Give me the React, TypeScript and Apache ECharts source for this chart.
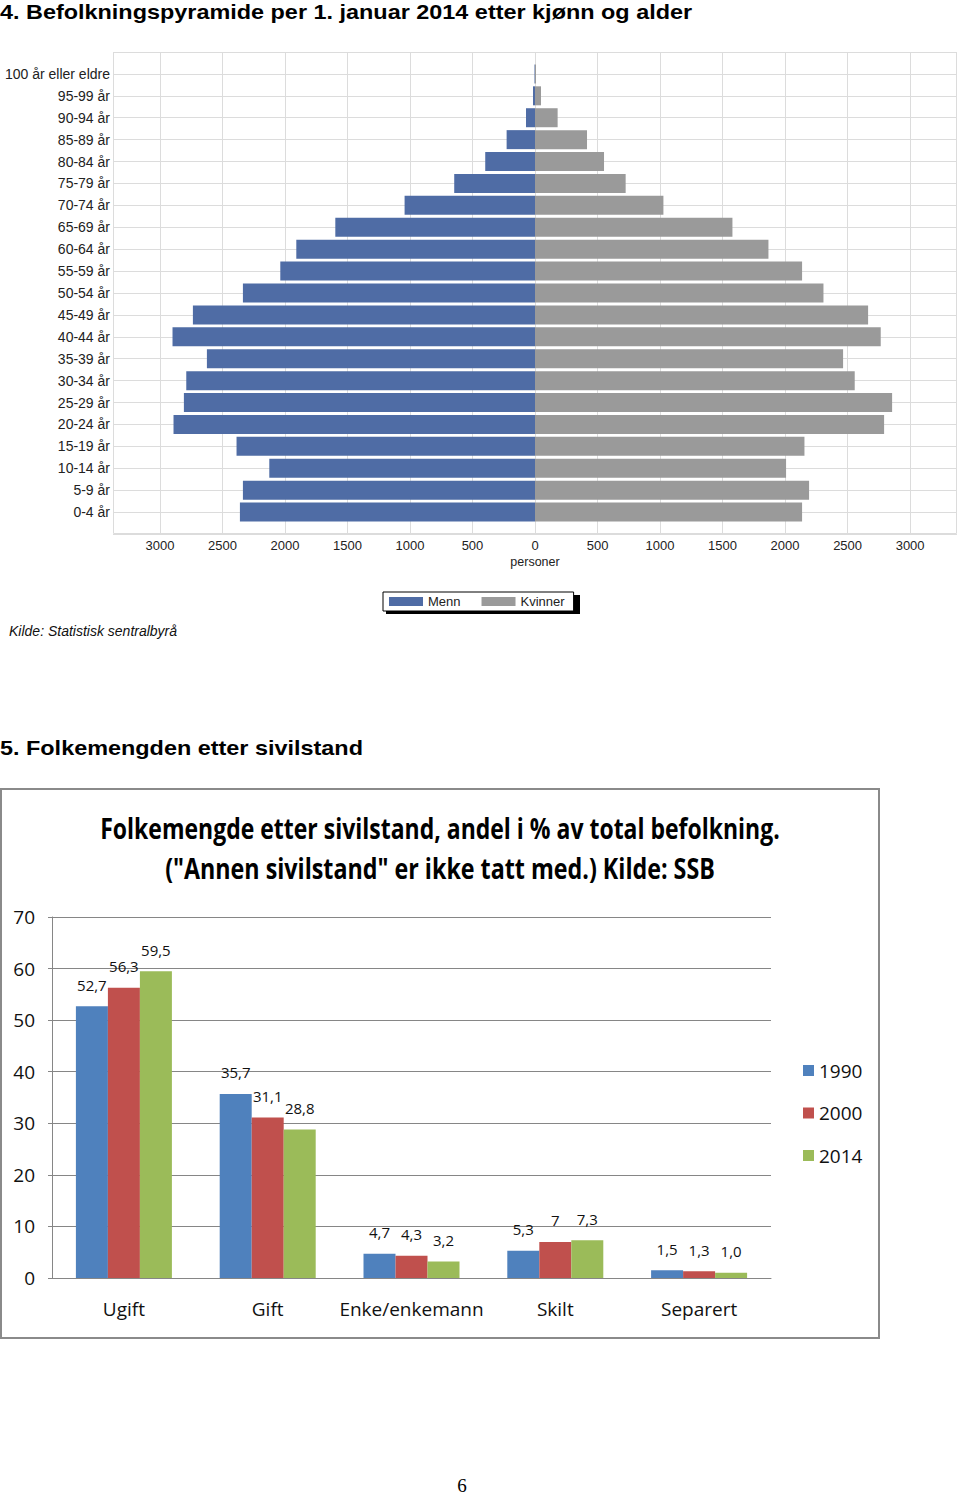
import React, { useEffect, useRef } from "react";
import * as echarts from "echarts";

// ---------- Chart 4: Befolkningspyramide ----------
const ageGroups = [
  "0-4 år", "5-9 år", "10-14 år", "15-19 år", "20-24 år", "25-29 år", "30-34 år",
  "35-39 år", "40-44 år", "45-49 år", "50-54 år", "55-59 år", "60-64 år", "65-69 år",
  "70-74 år", "75-79 år", "80-84 år", "85-89 år", "90-94 år", "95-99 år", "100 år eller eldre",
];
const menn = [2360, 2336, 2125, 2387, 2891, 2808, 2789, 2624, 2899, 2736, 2336, 2037, 1909, 1597, 1043, 646, 398, 227, 72, 16, 4];
const kvinner = [2136, 2192, 2008, 2155, 2792, 2856, 2557, 2464, 2765, 2664, 2307, 2136, 1867, 1579, 1027, 725, 552, 416, 181, 48, 8];
const pyramidMin = -3375;
const pyramidMax = 3375;
const pyramidStep = 125;
const pyramidLabelStep = 500;

// ---------- Chart 5: Folkemengden etter sivilstand ----------
const statuses = ["Ugift", "Gift", "Enke/enkemann", "Skilt", "Separert"];
const years = ["1990", "2000", "2014"];
const v1990 = [52.7, 35.7, 4.7, 5.3, 1.5];
const v2000 = [56.3, 31.1, 4.3, 7, 1.3];
const v2014 = [59.5, 28.8, 3.2, 7.3, 1.0];
const lab1990 = ["52,7", "35,7", "4,7", "5,3", "1,5"];
const lab2000 = ["56,3", "31,1", "4,3", "7", "1,3"];
const lab2014 = ["59,5", "28,8", "3,2", "7,3", "1,0"];

const SANS = "'Liberation Sans', Arial, sans-serif";
const HUMAN = "'Open Sans', 'Noto Sans', sans-serif";

function measure(text: string, font: string): number {
  const c = document.createElement("canvas").getContext("2d");
  if (!c) return 1;
  c.font = font;
  return c.measureText(text).width;
}

export default function App() {
  const ref = useRef<HTMLDivElement>(null);
  useEffect(() => {
    if (!ref.current) return;
    const chart = echarts.init(ref.current, undefined, { renderer: "svg" });

    const padCats = ["", ...ageGroups, ""];
    const mennData = [null, ...menn.map((v) => -v), null];
    const kvinnerData = [null, ...kvinner, null];

    const h1 = "4. Befolkningspyramide per 1. januar 2014 etter kjønn og alder";
    const h2 = "5. Folkemengden etter sivilstand";
    const headFont = "bold 21px " + SANS;
    const hs1 = 692 / measure(h1, headFont);
    const hs2 = 363 / measure(h2, headFont);

    const t1 = "Folkemengde etter sivilstand, andel i % av total befolkning.";
    const t2 = '("Annen sivilstand" er ikke tatt med.) Kilde: SSB';
    const titleFont = "bold 28px " + HUMAN;
    const s1 = 680 / measure(t1, titleFont);
    const s2 = 550 / measure(t2, titleFont);

    const sivSeries = [v1990, v2000, v2014].map((vals, i) => {
      const labs = [lab1990, lab2000, lab2014][i];
      return {
        name: years[i],
        type: "bar",
        xAxisIndex: 1,
        yAxisIndex: 1,
        data: vals,
        barWidth: 32,
        barGap: "0%",
        itemStyle: { color: ["#4f81bd", "#c0504d", "#9bbb59"][i] },
        label: {
          show: true,
          position: "top",
          distance: 14,
          fontSize: 15,
          fontFamily: HUMAN,
          color: "#111",
          formatter: (p: any) => labs[p.dataIndex],
        },
      };
    });

    const option: any = {
      animation: false,
      backgroundColor: "#fff",
      grid: [
        { left: 113, width: 844, top: 52, height: 482, containLabel: false },
        { left: 52, width: 719, top: 917, height: 361, containLabel: false },
      ],
      legend: [
        {
          data: ["Menn", "Kvinner"],
          left: 383,
          top: 592,
          orient: "horizontal",
          icon: "rect",
          itemWidth: 34,
          itemHeight: 9,
          itemGap: 21,
          padding: [3, 9, 3, 6],
          backgroundColor: "#fff",
          borderColor: "#000",
          borderWidth: 1,
          z: 10,
          textStyle: { fontSize: 13, fontFamily: SANS, color: "#222" },
        },
        {
          data: years,
          left: 803,
          top: 1061,
          padding: 0,
          orient: "vertical",
          icon: "rect",
          itemWidth: 11,
          itemHeight: 11,
          itemGap: 23.5,
          textStyle: { fontSize: 19, fontFamily: HUMAN, color: "#111" },
        },
      ],
      xAxis: [
        {
          type: "value",
          gridIndex: 0,
          min: pyramidMin,
          max: pyramidMax,
          interval: pyramidStep,
          axisLine: { show: false },
          axisTick: { show: false },
          axisLabel: {
            fontSize: 13,
            fontFamily: SANS,
            color: "#222",
            margin: 5,
            formatter: (v: number) => (v % pyramidLabelStep === 0 ? String(Math.abs(v)) : ""),
          },
          splitLine: {
            show: true,
            lineStyle: {
              color: ["rgba(0,0,0,0)", "rgba(0,0,0,0)", "rgba(0,0,0,0)", "#dcdcdc"],
              width: 1,
            },
          },
          name: "personer",
          nameLocation: "middle",
          nameGap: 21,
          nameTextStyle: { fontSize: 12.5, fontFamily: SANS, color: "#222" },
        },
        {
          type: "category",
          gridIndex: 1,
          data: statuses,
          axisLine: { show: true, lineStyle: { color: "#868686", width: 1 } },
          axisTick: { show: false },
          axisLabel: { fontSize: 19, fontFamily: HUMAN, color: "#111", margin: 21, interval: 0 },
        },
      ],
      yAxis: [
        {
          type: "category",
          gridIndex: 0,
          data: padCats,
          boundaryGap: false,
          axisLine: { show: false },
          axisTick: { show: false },
          axisLabel: { fontSize: 14, fontFamily: SANS, color: "#222", margin: 3, interval: 0 },
          splitLine: { show: true, interval: 0, lineStyle: { color: "#dcdcdc", width: 1 } },
        },
        {
          type: "value",
          gridIndex: 1,
          min: 0,
          max: 70,
          interval: 10,
          axisLine: { show: true, lineStyle: { color: "#868686", width: 1 } },
          axisTick: { show: true, length: 4, lineStyle: { color: "#868686" } },
          axisLabel: { fontSize: 19, fontFamily: HUMAN, color: "#111", margin: 17 },
          splitLine: { show: true, lineStyle: { color: "#868686", width: 1 } },
        },
      ],
      series: [
        {
          name: "Menn",
          type: "bar",
          xAxisIndex: 0,
          yAxisIndex: 0,
          stack: "pyr",
          data: mennData,
          barWidth: 19,
          itemStyle: { color: "#4f6ca5" },
        },
        {
          name: "Kvinner",
          type: "bar",
          xAxisIndex: 0,
          yAxisIndex: 0,
          stack: "pyr",
          data: kvinnerData,
          barWidth: 19,
          itemStyle: { color: "#9a9a9a" },
        },
        ...sivSeries,
      ],
      graphic: [
        {
          type: "text",
          x: 0,
          y: 11.5,
          scaleX: hs1,
          style: { text: h1, font: headFont, fill: "#000", textVerticalAlign: "middle" },
        },
        {
          type: "rect",
          shape: { x: 113.5, y: 52.5, width: 843, height: 481 },
          style: { fill: "none", stroke: "#dcdcdc", lineWidth: 1 },
          z: 1,
        },
        {
          type: "rect",
          shape: { x: 386, y: 595, width: 194, height: 19 },
          style: { fill: "#000" },
          z: 1,
        },
        {
          type: "text",
          x: 9,
          y: 631,
          style: {
            text: "Kilde: Statistisk sentralbyrå",
            font: "italic 14px " + SANS,
            fill: "#111",
            textVerticalAlign: "middle",
          },
        },
        {
          type: "text",
          x: 0,
          y: 748,
          scaleX: hs2,
          style: { text: h2, font: headFont, fill: "#000", textVerticalAlign: "middle" },
        },
        {
          type: "rect",
          shape: { x: 1, y: 789, width: 878, height: 549 },
          style: { fill: "none", stroke: "#8a8a8a", lineWidth: 2 },
          z: 1,
        },
        {
          type: "text",
          x: 440,
          y: 829,
          scaleX: s1,
          style: { text: t1, font: titleFont, fill: "#000", textAlign: "center", textVerticalAlign: "middle" },
        },
        {
          type: "text",
          x: 440,
          y: 868,
          scaleX: s2,
          style: { text: t2, font: titleFont, fill: "#000", textAlign: "center", textVerticalAlign: "middle" },
        },
        {
          type: "text",
          x: 462,
          y: 1485,
          style: {
            text: "6",
            font: "19px 'Liberation Serif', serif",
            fill: "#000",
            textAlign: "center",
            textVerticalAlign: "middle",
          },
        },
      ],
    };
    chart.setOption(option);
    return () => chart.dispose();
  }, []);
  return (
    <div
      ref={ref}
      style={{ position: "absolute", left: 0, top: 0, width: 960, height: 1496, background: "#fff" }}
    />
  );
}
